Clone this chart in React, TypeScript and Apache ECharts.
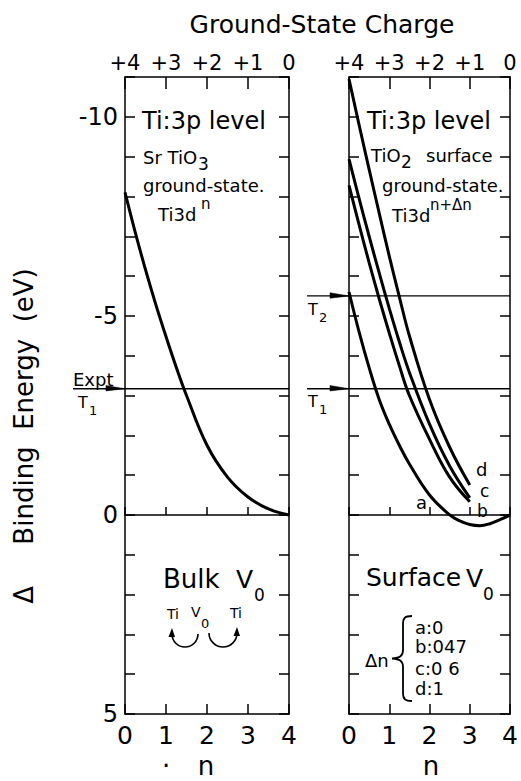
import React, { useEffect, useRef } from "react";
import * as echarts from "echarts";

// ---- data (energies as read on the inverted axis: -10 at top, +5 at bottom) ----
const nBulk = [0, 0.25, 0.5, 0.75, 1, 1.25, 1.5, 2, 2.5, 3, 3.5, 4];
const bulkEnergy = [-8.1, -7.1, -6.16, -5.29, -4.48, -3.71, -3.0, -1.75, -0.95, -0.45, -0.15, 0];

const nSurfA = [0, 0.25, 0.5, 0.75, 1, 1.25, 1.5, 2, 2.5, 2.75, 3, 3.25, 3.5, 3.75, 4];
const surfA = [-5.6, -4.6, -3.7, -2.9, -2.28, -1.75, -1.28, -0.5, 0.0, 0.15, 0.24, 0.27, 0.22, 0.12, 0];

const nSurf = [0, 0.25, 0.5, 0.75, 1, 1.25, 1.5, 2, 2.5, 3];
const surfB = [-8.28, -7.29, -6.34, -5.43, -4.57, -3.75, -3.0, -1.9, -0.95, -0.33];
const surfC = [-8.94, -7.95, -7.0, -6.08, -5.19, -4.35, -3.58, -2.28, -1.23, -0.43];
const surfD = [-10.95, -9.8, -8.68, -7.58, -6.5, -5.48, -4.5, -2.9, -1.7, -0.75];

const chargeLabels = ["+4", "+3", "+2", "+1", "0"];
const energyLabels = [-10, -5, 0, 5];
const levelT1 = -3.17;
const levelT2 = -5.5;

const FONT = "DejaVu Sans";

const zip = (xs: number[], ys: number[]) => xs.map((x, i) => [x, ys[i]]);

const BRACE =
  "M20,0 C13,0 11,2 11,8 L11,34 C11,40 8,42 0,42.5 C8,43 11,45 11,51 L11,77 C11,83 13,85 20,85";
let braceRegistered = false;

function txt(text: string, x: number, y: number, size: number, extra: any = {}) {
  return {
    type: "text",
    x,
    y,
    silent: true,
    ...extra,
    style: {
      text,
      fontSize: size,
      fontFamily: FONT,
      fill: "#000",
      align: "left",
      textAlign: "left",
      verticalAlign: "middle",
      textVerticalAlign: "middle",
      ...(extra.style || {}),
    },
  };
}

export default function App() {
  const ref = useRef<HTMLDivElement>(null);

  useEffect(() => {
    if (!ref.current) return;
    if (!braceRegistered) {
      echarts.graphic.registerShape("brace", echarts.graphic.extendPath(BRACE, {}) as any);
      braceRegistered = true;
    }
    const chart = echarts.init(ref.current, undefined, { renderer: "svg" });

    const axisLine = (onZero: boolean) => ({
      show: true,
      onZero,
      lineStyle: { color: "#000", width: 1.5 },
    });

    const xBottom = (grid: number) => ({
      type: "value",
      gridIndex: grid,
      position: "bottom",
      min: 0,
      max: 4,
      interval: 1,
      axisLine: axisLine(false),
      axisTick: { show: true, inside: true, length: 10, lineStyle: { color: "#000", width: 1.5 } },
      axisLabel: {
        show: true,
        margin: 9,
        fontSize: 25,
        fontFamily: FONT,
        color: "#000",
        formatter: (v: number) => String(v),
      },
      splitLine: { show: false },
    });
    const xTop = (grid: number) => ({
      type: "value",
      gridIndex: grid,
      position: "top",
      min: 0,
      max: 4,
      interval: 1,
      axisLine: axisLine(false),
      axisTick: { show: true, inside: true, length: 12, lineStyle: { color: "#000", width: 1.5 } },
      axisLabel: {
        show: true,
        margin: 4,
        fontSize: 21,
        fontFamily: FONT,
        color: "#000",
        formatter: (v: number) => chargeLabels[Math.round(v)] ?? "",
      },
      splitLine: { show: false },
    });
    const xZero = (grid: number) => ({
      type: "value",
      gridIndex: grid,
      position: "bottom",
      min: 0,
      max: 4,
      interval: 1,
      axisLine: axisLine(true),
      axisTick: { show: true, inside: true, length: 8, lineStyle: { color: "#000", width: 1.5 } },
      axisLabel: { show: false },
      splitLine: { show: false },
    });
    const yAx = (grid: number, pos: string, labels: boolean) => ({
      type: "value",
      gridIndex: grid,
      position: pos,
      min: -11,
      max: 5,
      interval: 1,
      inverse: true,
      axisLine: axisLine(false),
      axisTick: { show: true, inside: true, length: 10, lineStyle: { color: "#000", width: 1.5 } },
      axisLabel: {
        show: labels,
        margin: 7,
        fontSize: 24,
        fontFamily: FONT,
        color: "#000",
        formatter: (v: number) => (energyLabels.includes(v) ? String(v) : ""),
      },
      splitLine: { show: false },
    });

    const lineSeries = (name: string, xi: number, yi: number, data: number[][]) => ({
      name,
      type: "line",
      xAxisIndex: xi,
      yAxisIndex: yi,
      data,
      smooth: 0.4,
      symbol: "none",
      silent: true,
      lineStyle: { color: "#000", width: 3 },
      z: 5,
    });

    chart.setOption({
      animation: false,
      backgroundColor: "#fff",
      grid: [
        { left: 125, top: 77, width: 164, height: 637 },
        { left: 349, top: 77, width: 163, height: 637 },
      ],
      xAxis: [xBottom(0), xTop(0), xZero(0), xBottom(1), xTop(1), xZero(1)],
      yAxis: [yAx(0, "left", true), yAx(0, "right", false), yAx(1, "left", false), yAx(1, "right", false)],
      series: [
        lineSeries("bulk", 0, 0, zip(nBulk, bulkEnergy)),
        lineSeries("a", 3, 2, zip(nSurfA, surfA)),
        lineSeries("b", 3, 2, zip(nSurf, surfB)),
        lineSeries("c", 3, 2, zip(nSurf, surfC)),
        lineSeries("d", 3, 2, zip(nSurf, surfD)),
      ],
    });

    const px = (grid: number, n: number, e: number) =>
      chart.convertToPixel(
        grid === 0 ? { xAxisIndex: 0, yAxisIndex: 0 } : { xAxisIndex: 3, yAxisIndex: 2 },
        [n, e]
      ) as number[];

    const levelLine = (grid: number, level: number, startX: number) => {
      const [x0, y] = px(grid, 0, level);
      const [x1] = px(grid, 4, level);
      return [
        {
          type: "line",
          silent: true,
          shape: { x1: startX, y1: y, x2: x1, y2: y },
          style: { stroke: "#000", lineWidth: 1.3 },
          z: 10,
        },
        {
          type: "polygon",
          silent: true,
          shape: { points: [[x0 - 19, y - 3.2], [x0, y], [x0 - 19, y + 2.2]] },
          style: { fill: "#000", stroke: "#000", lineWidth: 0.5 },
          z: 10,
        },
      ];
    };

    const black = { stroke: "#000", fill: "none", lineWidth: 1.6 };

    const graphic: any[] = [
      // titles
      txt("Ground-State Charge", 322, 24, 25, { style: { align: "center", textAlign: "center" } }),
      txt("Δ     Binding  Energy  (eV)", 24, 436, 26, {
        rotation: Math.PI / 2,
        style: { align: "center", textAlign: "center" },
      }),
      txt("n", 206, 766, 26, { style: { align: "center", textAlign: "center" } }),
      txt("·", 166, 766, 26, { style: { align: "center", textAlign: "center" } }),
      txt("n", 431, 766, 26, { style: { align: "center", textAlign: "center" } }),

      // level lines
      ...levelLine(0, levelT1, 73),
      ...levelLine(1, levelT2, 307),
      ...levelLine(1, levelT1, 307),
      txt("Expt", 73, 379, 18),
      txt("T", 78, 402, 16),
      txt("1", 89, 410, 13),
      txt("T", 308, 309, 16),
      txt("2", 319, 317, 13),
      txt("T", 308, 401, 16),
      txt("1", 319, 409, 13),

      // left panel annotations
      txt("Ti:3p level", 142, 121, 24),
      txt("Sr TiO", 143, 157, 18),
      txt("3", 198, 164, 17),
      txt("ground-state.", 143, 185, 18),
      txt("Ti3d", 158, 214, 18),
      txt("n", 201, 204, 15),
      txt("Bulk", 163, 579, 26),
      txt("V", 236, 579, 25),
      txt("0", 254, 595, 17),
      txt("Ti", 167, 614, 14),
      txt("V", 191, 612, 14),
      txt("0", 201, 623, 13),
      txt("Ti", 230, 613, 14),
      {
        type: "arc",
        silent: true,
        shape: { cx: 185, cy: 634, r: 13, startAngle: 0, endAngle: Math.PI, clockwise: true },
        style: black,
      },
      {
        type: "arc",
        silent: true,
        shape: { cx: 223, cy: 633, r: 14, startAngle: 0, endAngle: Math.PI, clockwise: true },
        style: black,
      },
      {
        type: "polygon",
        silent: true,
        shape: { points: [[168.5, 637], [175, 637], [172, 628]] },
        style: { fill: "#000" },
      },
      {
        type: "polygon",
        silent: true,
        shape: { points: [[233.5, 636], [240, 636], [237, 627]] },
        style: { fill: "#000" },
      },

      // right panel annotations
      txt("Ti:3p level", 367, 121, 24),
      txt("TiO", 371, 155, 18),
      txt("2", 401, 162, 17),
      txt("surface", 426, 155, 18),
      txt("ground-state.", 382, 185, 18),
      txt("Ti3d", 392, 215, 18),
      txt("n+Δn", 430, 205, 15),
      txt("a", 416, 502, 18),
      txt("b", 477, 511, 17),
      txt("c", 480, 491, 17),
      txt("d", 476, 469, 18),
      txt("Surface", 366, 577, 25),
      txt("V", 466, 578, 25),
      txt("0", 483, 594, 17),
      txt("Δn", 365, 660, 18),
      {
        type: "brace",
        x: 392,
        y: 616,
        silent: true,
        style: { stroke: "#000", fill: "none", lineWidth: 1.8 },
      },
      txt("a:0", 415, 627, 18),
      txt("b:047", 415, 646, 18),
      txt("c:0 6", 415, 668, 18),
      txt("d:1", 415, 688, 18),
    ];

    chart.setOption({ graphic });

    return () => chart.dispose();
  }, []);

  return (
    <div
      ref={ref}
      style={{ position: "fixed", left: 0, top: 0, width: 521, height: 781, background: "#fff" }}
    />
  );
}
